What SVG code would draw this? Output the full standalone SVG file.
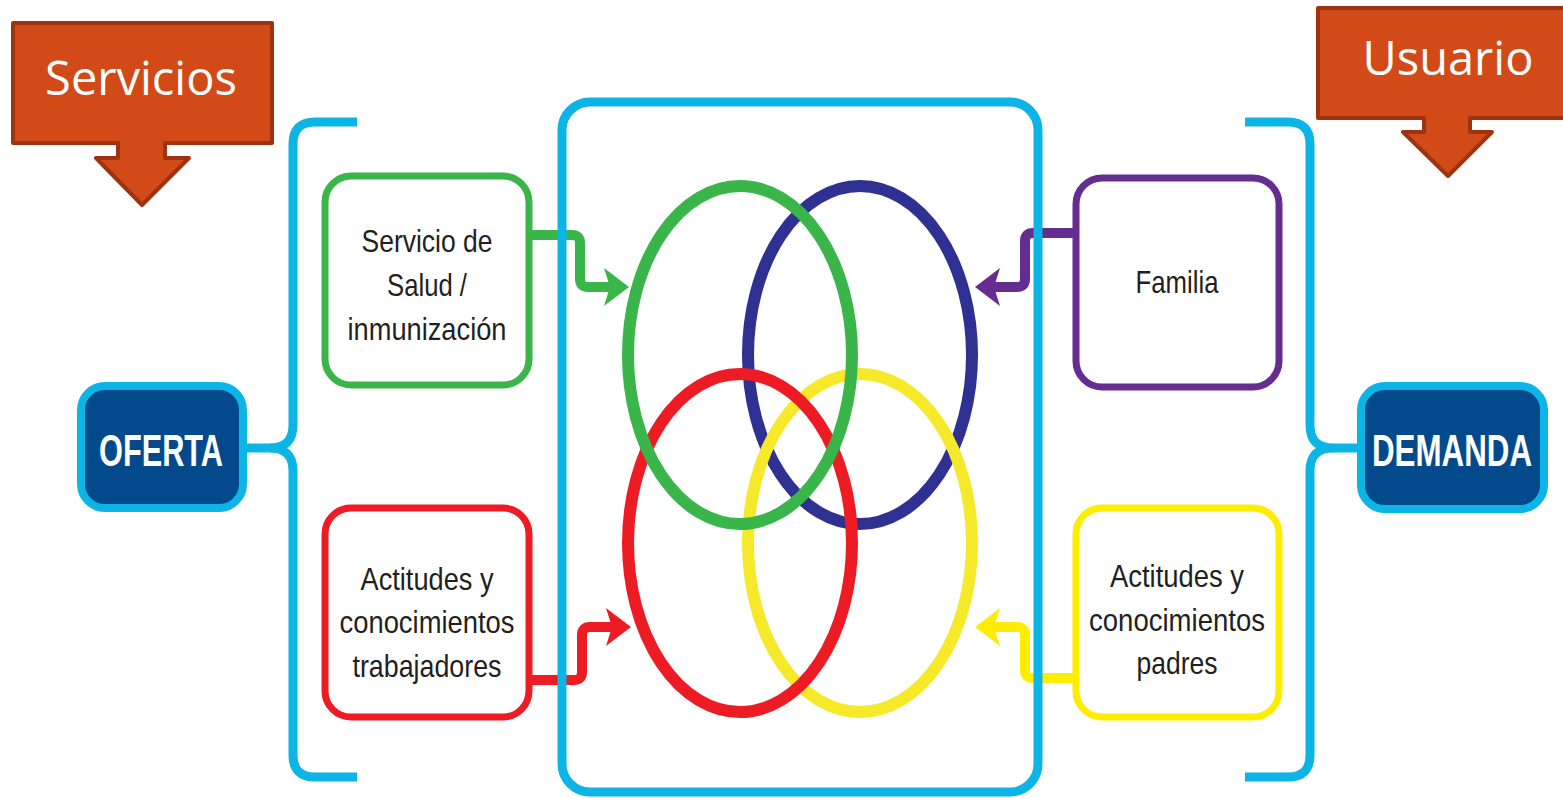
<svg xmlns="http://www.w3.org/2000/svg" width="1563" height="798" viewBox="0 0 1563 798">
<style>
.callout{fill:#D14A18;stroke:#A0330F;stroke-width:4;stroke-linejoin:round}
.ctext{font-family:"Open Sans","DejaVu Sans",sans-serif;font-size:47px;fill:#ffffff;text-anchor:middle}
.brk{fill:none;stroke:#0DB4E6;stroke-width:9;stroke-linecap:butt}
.big{stroke:#0DB4E6;stroke-width:8}
.btext{font-family:"Liberation Sans Narrow","Liberation Sans",Arial,sans-serif;font-weight:bold;font-size:45px;fill:#ffffff;text-anchor:middle}
.box{fill:#ffffff;stroke-width:7}
.ntext{font-family:"Liberation Sans Narrow","Liberation Sans",Arial,sans-serif;font-size:32px;fill:#231F20;text-anchor:middle}
.conn{fill:none;stroke-width:10;stroke-linejoin:round}
.ring{fill:none;stroke-width:12}
</style>

<g id="servicios">
<path class="callout" d="M13,23 H272 V143 H165 V158 H189 L142,205 L96,158 H118 V143 H13 Z"/>
<text class="ctext" x="141" y="95">Servicios</text>
</g>

<g id="usuario">
<path class="callout" d="M1318,8 H1580 V118 H1470 V132 H1492 L1448,176 L1403,132 H1424 V118 H1318 Z"/>
<text class="ctext" x="1448" y="75">Usuario</text>
</g>

<g id="brackets">
<path class="brk" d="M357,122 H315 Q293,122 293,144 V425 Q293,448 270,448 Q293,448 293,471 V755 Q293,777 315,777 H357"/>
<path class="brk" d="M247,448 H274"/>
<path class="brk" d="M1245,122 H1288 Q1310,122 1310,144 V425 Q1310,448 1333,448 Q1310,448 1310,471 V755 Q1310,777 1288,777 H1245"/>
<path class="brk" d="M1331,448 H1359"/>
</g>

<g id="oferta">
<rect class="big" x="81" y="386" width="162" height="122" rx="24" fill="#034A8C"/>
<text class="btext" x="161" y="466" textLength="124" lengthAdjust="spacingAndGlyphs">OFERTA</text>
</g>

<g id="demanda">
<rect class="big" x="1361" y="386" width="183" height="123" rx="24" fill="#034A8C"/>
<text class="btext" x="1452" y="466" textLength="160" lengthAdjust="spacingAndGlyphs">DEMANDA</text>
</g>

<g id="connectors">
<path class="conn" stroke="#39B54A" d="M532,235 H572 Q580,235 580,243 V279 Q580,287 588,287 H612"/>
<path fill="#39B54A" d="M629,287 L604,268 L610,287 L604,306 Z"/>
<path class="conn" stroke="#ED1C24" d="M532,680 H574 Q582,680 582,672 V635 Q582,627 590,627 H614"/>
<path fill="#ED1C24" d="M631,627 L606,608 L612,627 L606,646 Z"/>
<path class="conn" stroke="#662D91" d="M1073,233 H1033 Q1025,233 1025,241 V279 Q1025,287 1017,287 H992"/>
<path fill="#662D91" d="M975,287 L1000,268 L994,287 L1000,306 Z"/>
<path class="conn" stroke="#FFED00" d="M1073,678 H1033 Q1025,678 1025,670 V635 Q1025,627 1017,627 H992"/>
<path fill="#FFED00" d="M975,627 L1000,608 L994,627 L1000,646 Z"/>
</g>

<g id="center">
<rect x="562" y="102" width="476" height="690" rx="28" fill="none" stroke="#0DB4E6" stroke-width="9"/>
<ellipse class="ring" stroke="#2E3192" cx="860" cy="355" rx="112" ry="169"/>
<ellipse class="ring" stroke="#F5E92A" cx="860" cy="543" rx="112" ry="169"/>
<ellipse class="ring" stroke="#ED1C24" cx="740" cy="543" rx="112" ry="169"/>
<ellipse class="ring" stroke="#39B54A" cx="740" cy="355" rx="112" ry="169"/>
</g>

<g id="servicio-salud">
<rect class="box" stroke="#39B54A" x="325" y="176" width="204" height="209" rx="26"/>
<text class="ntext" x="427" y="252" textLength="131" lengthAdjust="spacingAndGlyphs">Servicio de</text>
<text class="ntext" x="427" y="296" textLength="80" lengthAdjust="spacingAndGlyphs">Salud /</text>
<text class="ntext" x="427" y="340" textLength="159" lengthAdjust="spacingAndGlyphs">inmunización</text>
</g>

<g id="actitudes-trabajadores">
<rect class="box" stroke="#ED1C24" x="325" y="508" width="204" height="209" rx="26"/>
<text class="ntext" x="427" y="590" textLength="133" lengthAdjust="spacingAndGlyphs">Actitudes y</text>
<text class="ntext" x="427" y="633" textLength="175" lengthAdjust="spacingAndGlyphs">conocimientos</text>
<text class="ntext" x="427" y="677" textLength="149" lengthAdjust="spacingAndGlyphs">trabajadores</text>
</g>

<g id="familia">
<rect class="box" stroke="#662D91" x="1076" y="178" width="203" height="209" rx="26"/>
<text class="ntext" x="1177" y="293" textLength="83" lengthAdjust="spacingAndGlyphs">Familia</text>
</g>

<g id="actitudes-padres">
<rect class="box" stroke="#FFED00" x="1076" y="508" width="203" height="209" rx="26"/>
<text class="ntext" x="1177" y="587" textLength="134" lengthAdjust="spacingAndGlyphs">Actitudes y</text>
<text class="ntext" x="1177" y="631" textLength="176" lengthAdjust="spacingAndGlyphs">conocimientos</text>
<text class="ntext" x="1177" y="674" textLength="81" lengthAdjust="spacingAndGlyphs">padres</text>
</g>
</svg>
